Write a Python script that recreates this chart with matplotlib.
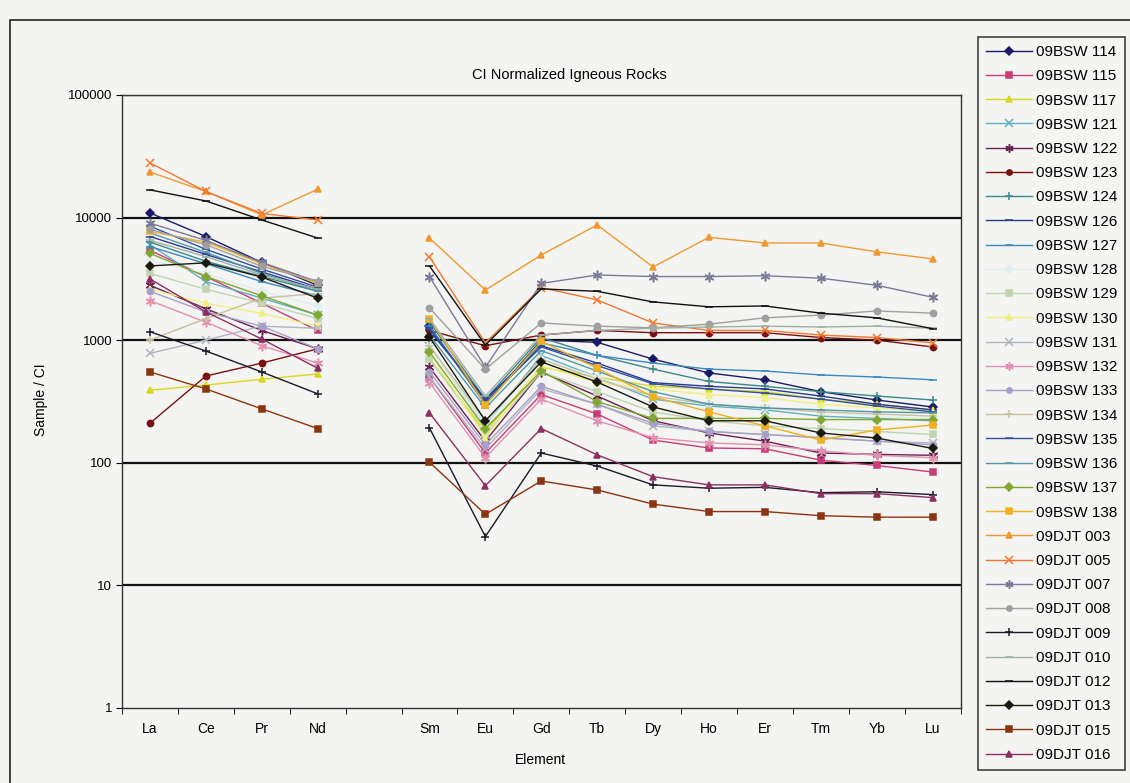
import numpy as np
import matplotlib
matplotlib.use("Agg")
import matplotlib.pyplot as plt
from matplotlib.patches import Rectangle

plt.rcParams['font.family'] = ['Liberation Sans', 'DejaVu Sans']

# element order, blank slot where Pm would be
elements = ['La', 'Ce', 'Pr', 'Nd', '', 'Sm', 'Eu', 'Gd', 'Tb', 'Dy', 'Ho', 'Er', 'Tm', 'Yb', 'Lu']

# CI normalized values (La Ce Pr Nd | Sm Eu Gd Tb Dy Ho Er Tm Yb Lu)
bsw114 = [10900, 7000, 4300, 2800, 1300, 300, 1000, 960, 700, 540, 475, 380, 325, 285]
bsw115 = [5400, 3300, 2000, 1200, 500, 120, 360, 250, 153, 132, 130, 105, 95, 84]
bsw117 = [390, 430, 480, 530, 700, 180, 600, 500, 420, 400, 380, 330, 300, 270]
bsw121 = [6000, 3000, 2200, 1600, 900, 200, 750, 500, 330, 290, 270, 240, 230, 220]
bsw122 = [2800, 1800, 1200, 850, 600, 150, 550, 350, 220, 175, 150, 120, 117, 115]
bsw123 = [210, 510, 650, 850, 1200, 900, 1100, 1200, 1150, 1150, 1150, 1050, 1000, 880]
bsw124 = [6300, 4400, 3300, 2500, 1400, 330, 1050, 750, 580, 460, 420, 380, 350, 325]
bsw126 = [7000, 5000, 3600, 2600, 1200, 330, 900, 650, 450, 420, 400, 350, 300, 270]
bsw127 = [5800, 4200, 3000, 2300, 1300, 300, 950, 750, 650, 580, 560, 520, 500, 475]
bsw128 = [4500, 3500, 2500, 1900, 900, 200, 700, 500, 350, 300, 280, 260, 240, 230]
bsw129 = [3500, 2600, 2000, 1500, 700, 170, 550, 380, 260, 220, 200, 190, 180, 170]
bsw130 = [2600, 2000, 1650, 1300, 800, 160, 620, 450, 400, 360, 340, 300, 280, 260]
bsw131 = [780, 1000, 1300, 1250, 500, 130, 400, 300, 200, 180, 170, 160, 150, 145]
bsw132 = [2100, 1400, 900, 650, 450, 110, 330, 220, 160, 145, 140, 125, 115, 110]
bsw133 = [2500, 1700, 1300, 850, 550, 140, 420, 300, 210, 180, 170, 160, 150, 140]
bsw134 = [1000, 1500, 2200, 2400, 900, 220, 700, 480, 350, 300, 280, 260, 250, 240]
bsw135 = [8500, 5500, 3800, 2700, 1250, 320, 880, 620, 440, 400, 370, 330, 290, 260]
bsw136 = [7500, 5200, 3500, 2500, 1100, 280, 820, 560, 380, 300, 280, 270, 260, 255]
bsw137 = [5100, 3300, 2300, 1600, 800, 190, 560, 315, 230, 230, 230, 225, 225, 225]
bsw138 = [7700, 6300, 4200, 2900, 1500, 295, 980, 590, 345, 260, 200, 153, 185, 203]
djt003 = [23500, 16300, 10500, 17000, 6800, 2560, 4950, 8700, 3950, 6900, 6200, 6200, 5250, 4600]
djt005 = [27900, 16300, 10800, 9550, 4770, 950, 2680, 2130, 1380, 1200, 1200, 1100, 1050, 950]
djt007 = [9000, 6500, 4300, 3000, 3300, 600, 2900, 3400, 3300, 3300, 3350, 3200, 2800, 2240]
djt008 = [8000, 6000, 4000, 3000, 1830, 580, 1380, 1300, 1260, 1350, 1520, 1600, 1730, 1660]
djt009 = [1170, 815, 550, 365, 192, 25, 120, 94, 66, 62, 63, 57, 58, 55]
djt010 = [6500, 4800, 3400, 2600, 1500, 350, 1100, 1200, 1250, 1280, 1300, 1280, 1300, 1250]
djt012 = [16800, 13650, 9550, 6800, 4030, 910, 2620, 2500, 2050, 1870, 1900, 1660, 1520, 1240]
djt013 = [4030, 4270, 3270, 2200, 1060, 220, 665, 455, 285, 220, 220, 175, 159, 131]
djt015 = [550, 400, 275, 190, 101, 38, 71, 60, 46, 40, 40, 37, 36, 36]
djt016 = [3150, 1700, 1020, 590, 255, 65, 190, 116, 77, 66, 66, 56, 56, 52]

names = ['09BSW 114', '09BSW 115', '09BSW 117', '09BSW 121', '09BSW 122', '09BSW 123',
         '09BSW 124', '09BSW 126', '09BSW 127', '09BSW 128', '09BSW 129', '09BSW 130',
         '09BSW 131', '09BSW 132', '09BSW 133', '09BSW 134', '09BSW 135', '09BSW 136',
         '09BSW 137', '09BSW 138', '09DJT 003', '09DJT 005', '09DJT 007', '09DJT 008',
         '09DJT 009', '09DJT 010', '09DJT 012', '09DJT 013', '09DJT 015', '09DJT 016']
series = [bsw114, bsw115, bsw117, bsw121, bsw122, bsw123, bsw124, bsw126, bsw127, bsw128,
          bsw129, bsw130, bsw131, bsw132, bsw133, bsw134, bsw135, bsw136, bsw137, bsw138,
          djt003, djt005, djt007, djt008, djt009, djt010, djt012, djt013, djt015, djt016]

# excel 2003 style colours, washed out a bit like the scan
colors = ['#1a1a66', '#c83c78', '#d8d820', '#60b0c0', '#6a2050', '#7a1010',
          '#3a8a8a', '#2a3a90', '#3a8ac0', '#e0eef0', '#c0d4b0', '#f0f080',
          '#b0b4c0', '#e090b0', '#a8a0c8', '#c8c0a0', '#3050a0', '#5098a8',
          '#80a830', '#f0b020', '#f09830', '#f07830', '#7a7a9a', '#a0a0a0',
          '#1a1a2a', '#a0b0a8', '#101010', '#1a1a10', '#8a3510', '#8a3060']
marker_cycle = ['D', 's', '^', 'x', (6, 2, 0), 'o', '+', '_', '_']

bg = '#f4f4f2'
fig = plt.figure(figsize=(11.3, 7.83), dpi=100, facecolor=bg)
ax = fig.add_axes([0.108, 0.0958, 0.742, 0.783], facecolor=bg)

x = np.arange(len(elements))
for i, (nm, vals) in enumerate(zip(names, series)):
    y = list(vals[:4]) + [np.nan] + list(vals[4:])
    m = marker_cycle[i % len(marker_cycle)]
    ms = 4.5
    if m in ('x', '+', '_'):
        ms = 6
    if m == (6, 2, 0):
        ms = 7
    ax.plot(x, y, color=colors[i], lw=1.0, marker=m, markersize=ms,
            markeredgewidth=1.1, label=nm)

ax.set_yscale('log')
ax.set_ylim(1, 100000)
ax.set_xlim(-0.5, len(elements) - 0.5)
ax.set_yticks([1, 10, 100, 1000, 10000, 100000])
ax.set_yticklabels(['1', '10', '100', '1000', '10000', '100000'])
ax.yaxis.set_minor_locator(matplotlib.ticker.NullLocator())
ax.set_xticks(x)
ax.set_xticklabels(elements)
ax.set_xticks(np.arange(-0.5, len(elements)), minor=True)
ax.tick_params(axis='x', which='major', length=0, labelsize=10, pad=10)
ax.tick_params(axis='x', which='minor', length=4, direction='out')
ax.tick_params(axis='y', which='major', length=4, direction='out', labelsize=9.5, pad=3)
for yv in [10, 100, 1000, 10000, 100000]:
    ax.axhline(yv, color='#111111', lw=1.6, zorder=0.5)
for s in ax.spines.values():
    s.set_color('#333333')
    s.set_linewidth(1.0)

fig.text(0.504, 0.904, 'CI Normalized Igneous Rocks', ha='center', va='center', fontsize=10.5)
fig.text(0.036, 0.49, 'Sample / CI', rotation=90, ha='center', va='center', fontsize=10)
fig.text(0.478, 0.029, 'Element', ha='center', va='center', fontsize=10)

leg = fig.legend(loc='upper left', bbox_to_anchor=(0.859, 0.962), frameon=True,
                 fancybox=False, fontsize=11, handlelength=3.0, handletextpad=0.3,
                 labelspacing=0.67, borderpad=0.5, facecolor=bg, markerscale=0.85)
leg.get_frame().set_edgecolor('#111111')
leg.get_frame().set_linewidth(1.2)

# outer chart border
fig.patches.append(Rectangle((0.009, -0.01), 1.2, 0.984, transform=fig.transFigure,
                             fill=False, edgecolor='#222222', lw=1.2))

fig.savefig('out.png', dpi=100, facecolor=bg)
